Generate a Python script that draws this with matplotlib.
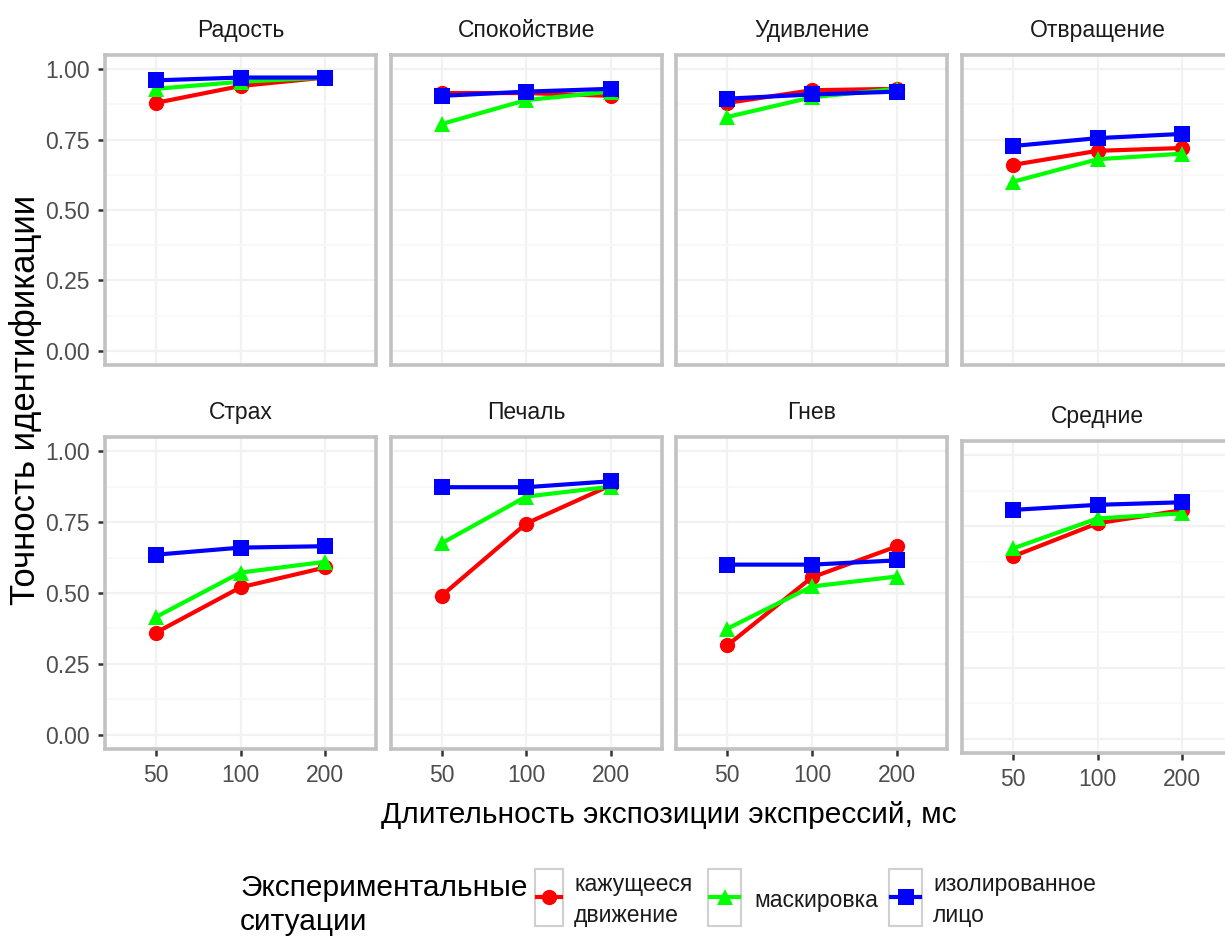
import matplotlib
matplotlib.use('Agg')
import matplotlib.pyplot as plt
from matplotlib.lines import Line2D
from matplotlib.patches import Rectangle
from matplotlib.ticker import MultipleLocator

plt.rcParams['font.family'] = ['Liberation Sans', 'DejaVu Sans']

# ---- data ----
durations = ['50', '100', '200']
panels = ['Радость', 'Спокойствие', 'Удивление', 'Отвращение',
          'Страх', 'Печаль', 'Гнев', 'Средние']
conditions = ['кажущееся\nдвижение', 'маскировка', 'изолированное\nлицо']

apparent_motion = [
    [0.88, 0.94, 0.97],
    [0.915, 0.915, 0.905],
    [0.88, 0.925, 0.93],
    [0.66, 0.71, 0.72],
    [0.36, 0.52, 0.59],
    [0.49, 0.745, 0.88],
    [0.315, 0.555, 0.664],
    [0.643, 0.76, 0.806],
]
masking = [
    [0.93, 0.955, 0.97],
    [0.805, 0.89, 0.92],
    [0.83, 0.90, 0.93],
    [0.60, 0.68, 0.70],
    [0.415, 0.572, 0.61],
    [0.675, 0.84, 0.875],
    [0.374, 0.523, 0.558],
    [0.671, 0.777, 0.795],
]
isolated_face = [
    [0.96, 0.97, 0.97],
    [0.905, 0.92, 0.93],
    [0.895, 0.91, 0.92],
    [0.727, 0.755, 0.77],
    [0.635, 0.66, 0.665],
    [0.873, 0.873, 0.894],
    [0.60, 0.60, 0.615],
    [0.807, 0.825, 0.834],
]
yticks = [0.0, 0.25, 0.5, 0.75, 1.0]
ytick_labels = ['0.00', '0.25', '0.50', '0.75', '1.00']

series = [apparent_motion, masking, isolated_face]
colors = ['#ff0000', '#00ff00', '#0000ff']
markers = ['o', '^', 's']

W, H = 1225, 941
fig = plt.figure(figsize=(W / 100, H / 100), dpi=100)


def fx(px):
    return px / W


def fy(py):
    return 1 - py / H


border_col = '#c2c2c2'
xpos = list(range(len(durations)))

for i, name in enumerate(panels):
    row, col = divmod(i, 4)
    left = 105 + col * 285.7
    top = 55 if row == 0 else 437
    height = 310 if row == 0 else 312
    if i == 7:
        top += 4
    ax = fig.add_axes([fx(left), fy(top + height), 271 / W, height / H])
    ax.set_xlim(-0.6, 2.6)
    ax.set_ylim(-0.05, 1.05)
    ax.set_xticks(xpos)
    ax.set_xticklabels(durations)
    ax.set_yticks(yticks)
    ax.set_yticklabels(ytick_labels)
    ax.yaxis.set_minor_locator(MultipleLocator(0.125))
    ax.grid(which='major', color='#f2f2f2', linewidth=1.6)
    ax.grid(which='minor', axis='y', color='#f8f8f8', linewidth=1.2)
    ax.set_axisbelow(True)
    for sp in ax.spines.values():
        sp.set_color(border_col)
        sp.set_linewidth(2.6)
    ax.tick_params(which='minor', length=0)
    ax.tick_params(axis='both', which='major', labelsize=16.5, labelcolor='#4d4d4d',
                   color='#333333', width=1.8, length=5, pad=6)
    if col != 0:
        ax.tick_params(axis='y', length=0, labelleft=False)
    if row == 0:
        ax.tick_params(axis='x', length=0, labelbottom=False)
    for vals, c, m in zip(series, colors, markers):
        ax.plot(xpos, vals[i], color=c, marker=m, markersize=11,
                linewidth=3.0, markeredgewidth=0, clip_on=False)
    ax.set_title(name, fontsize=16.5, color='#1a1a1a', pad=13)

fig.text(fx(26), fy(400), 'Точность идентификации', rotation=90,
         ha='center', va='center', fontsize=25)
fig.text(fx(669), fy(815), 'Длительность экспозиции экспрессий, мс',
         ha='center', va='center', fontsize=21.5)

# ---- legend ----
fig.text(fx(240), fy(905), 'Экспериментальные\nситуации', ha='left', va='center',
         fontsize=21.5, linespacing=1.3)
key_boxes = [(535, 563), (708, 741), (889, 922)]
label_x = [574, 754, 933]
for (x0, x1), lx, c, m, lab in zip(key_boxes, label_x, colors, markers, conditions):
    fig.add_artist(Rectangle((fx(x0), fy(926)), (x1 - x0) / W, 57 / H,
                             transform=fig.transFigure, facecolor='white',
                             edgecolor='#d0d0d0', linewidth=1.5))
    fig.add_artist(Line2D([fx(x0 + 2), fx(x1 - 2)], [fy(897), fy(897)],
                          transform=fig.transFigure, color=c, linewidth=3.0))
    fig.add_artist(Line2D([fx((x0 + x1) / 2)], [fy(897)], transform=fig.transFigure,
                          color=c, marker=m, markersize=11, markeredgewidth=0))
    fig.text(fx(lx), fy(900), lab, ha='left', va='center', fontsize=16.5,
             linespacing=1.45, color='#1a1a1a')

fig.savefig('out.png', dpi=100)
